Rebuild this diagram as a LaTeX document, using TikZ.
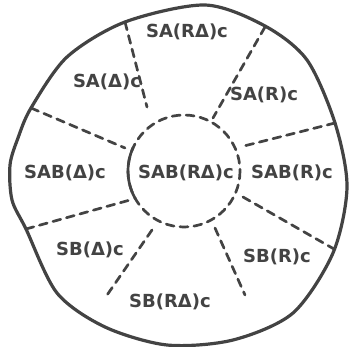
\documentclass[tikz,border=0pt]{standalone}
\usepackage{fontspec}
\setmainfont{DejaVu Sans}
\definecolor{Ink}{HTML}{434343}
\definecolor{Paper}{HTML}{FFFFFF}
\tikzset{
  rim/.style={draw=Ink,line width=3.2pt,line join=round},
  cut/.style={draw=Ink,line width=2.7pt,line cap=round,dash pattern=on 8pt off 6pt},
  lab/.style={font=\fontsize{18}{20}\selectfont\bfseries,text=Ink,inner sep=0pt},
}
\begin{document}
\begin{tikzpicture}[x=1pt,y=-1pt]
\useasboundingbox[fill=Paper] (0,0) rectangle (350,347);
% Dividers first, so the rim covers their outer ends.
\draw[cut] (125,22) -- (147,107);
\draw[cut] (265,27) -- (213,118);
\draw[cut] (31,108) -- (125,148);
\draw[cut] (335,123) -- (240,147);
\draw[cut] (26,229) -- (130,200);
\draw[cut] (243,197) -- (334,249);
\draw[cut] (152,230) -- (105,298);
\draw[cut] (215,228) -- (245,295);
% Inner region, its left side drawn solid.
\draw[cut] (184,171) circle [radius=56];
\draw[rim,line width=2.7pt] (184,171) ++(150:56) arc [start angle=150,end angle=205,radius=56];
% Hand-drawn outer rim.
\draw[rim] plot[smooth cycle] coordinates {(205,5) (265,26) (307,60) (335,123) (347,187) (333,253) (293,313) (233,340) (167,345) (105,327) (57,293) (26,229) (12,200) (10,165) (18,138) (31,108) (67,57) (125,22)};
% Region labels.
\node[lab] (ard) at (187,32) {SA(RΔ)c};
\node[lab] (ad) at (107,82) {SA(Δ)c};
\node[lab] (ar) at (264,95) {SA(R)c};
\node[lab] (abd) at (65,173) {SAB(Δ)c};
\node[lab] (abrd) at (186,173) {SAB(RΔ)c};
\node[lab] (abr) at (292,173) {SAB(R)c};
\node[lab] (bd) at (90,250) {SB(Δ)c};
\node[lab] (br) at (277,257) {SB(R)c};
\node[lab] (brd) at (170,302) {SB(RΔ)c};
\end{tikzpicture}
\end{document}
